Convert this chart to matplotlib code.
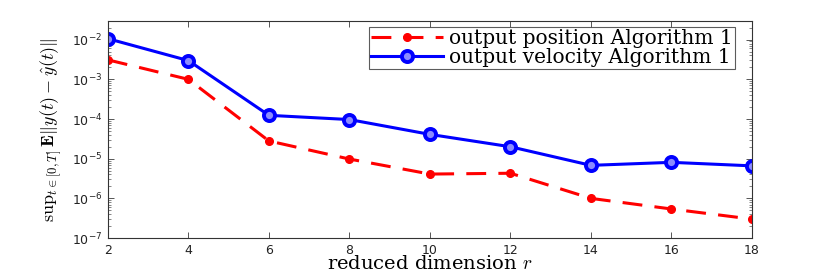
import matplotlib
matplotlib.use("Agg")
import matplotlib.pyplot as plt
from matplotlib.ticker import LogLocator, NullFormatter, FixedLocator

plt.rcParams['mathtext.fontset'] = 'cm'

r = [2, 4, 6, 8, 10, 12, 14, 16, 18]
pos_err = [3.1e-3, 1.0e-3, 2.8e-5, 9.8e-6, 4.1e-6, 4.3e-6, 1.0e-6, 5.4e-7, 3.0e-7]
vel_err = [1.06e-2, 2.97e-3, 1.24e-4, 9.7e-5, 4.1e-5, 2.0e-5, 6.8e-6, 8.1e-6, 6.6e-6]
ytick_vals = [1e-7, 1e-6, 1e-5, 1e-4, 1e-3, 1e-2]
ytick_labels = [r'$\mathregular{10^{-7}}$', r'$\mathregular{10^{-6}}$', r'$\mathregular{10^{-5}}$',
                r'$\mathregular{10^{-4}}$', r'$\mathregular{10^{-3}}$', r'$\mathregular{10^{-2}}$']
legend_labels = ['output position Algorithm 1', 'output velocity Algorithm 1']

fig = plt.figure(figsize=(8.3, 2.73), dpi=100)
ax = fig.add_axes([0.130, 0.128, 0.776, 0.796])

ax.plot(r, pos_err, color='#ff0000', linestyle=(0, (6.5, 4)), linewidth=2.2,
        marker='o', markersize=5.5, markerfacecolor='#ff0000', markeredgecolor='#ff0000',
        label=legend_labels[0])
ax.plot(r, vel_err, color='#0000ff', linestyle='-', linewidth=2.2,
        marker='o', markersize=8, markerfacecolor='#8c8cff', markeredgewidth=2.8,
        markeredgecolor='#0000ff', label=legend_labels[1])

ax.set_yscale('log')
ax.set_xlim(2, 18)
ax.set_ylim(1e-7, 3e-2)
ax.set_xticks(r)
ax.set_xticklabels([str(v) for v in r], fontsize=9, color='#222222')
ax.yaxis.set_major_locator(FixedLocator(ytick_vals))
ax.set_yticklabels(ytick_labels, fontsize=9, color='#222222')
ax.yaxis.set_minor_locator(LogLocator(base=10, subs=range(2, 10), numticks=20))
ax.yaxis.set_minor_formatter(NullFormatter())

ax.tick_params(which='both', direction='in', top=True, right=True, color='#555555')
ax.tick_params(which='major', length=4, width=0.7, pad=4)
ax.tick_params(which='minor', length=2, width=0.5)
for s in ax.spines.values():
    s.set_linewidth(0.8)
    s.set_color('#333333')

ax.set_xlabel(r'reduced dimension $r$', fontsize=14, fontfamily='DejaVu Serif', labelpad=-1)
ax.set_ylabel(r'$\mathrm{sup}_{t\in[0,T]}\,\mathbf{E}\|y(t)-\hat{y}(t)\|$', fontsize=13, labelpad=6)

leg = ax.legend(loc='upper right', bbox_to_anchor=(0.9736, 0.971),
                prop={'family': 'DejaVu Serif', 'size': 14.5},
                frameon=True, fancybox=False, edgecolor='#333333',
                handlelength=3.6, handletextpad=0.3, borderpad=0.1,
                labelspacing=0.0, borderaxespad=0.0)
leg.get_frame().set_linewidth(0.8)

fig.savefig('out.png', dpi=100)
